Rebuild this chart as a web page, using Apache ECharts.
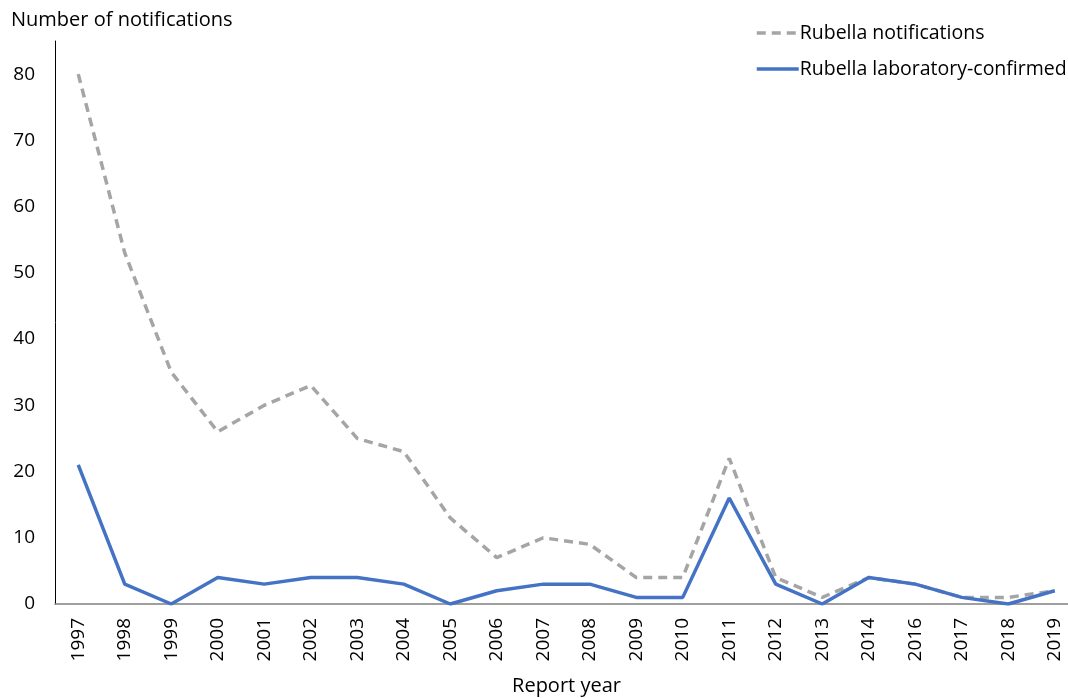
<!DOCTYPE html>
<html>
<head>
<meta charset="utf-8">
<script src="https://cdn.jsdelivr.net/npm/echarts@6/dist/echarts.min.js"></script>
<style>
  html, body { margin: 0; padding: 0; background: #fff; }
  #chart { width: 1068px; height: 698px; }
</style>
</head>
<body>
<div id="chart"></div>
<script>
  // report years (2015 not reported)
  const years = ['1997', '1998', '1999', '2000', '2001', '2002', '2003', '2004', '2005', '2006', '2007',
    '2008', '2009', '2010', '2011', '2012', '2013', '2014', '2016', '2017', '2018', '2019']
  const notifications = [80, 53, 35, 26, 30, 33, 25, 23, 13, 7, 10, 9, 4, 4, 22, 4, 1, 4, 3, 1, 1, 2]
  const labConfirmed = [21, 3, 0, 4, 3, 4, 4, 3, 0, 2, 3, 3, 1, 1, 16, 3, 0, 4, 3, 1, 0, 2]
  const yTicks = [0, 10, 20, 30, 40, 50, 60, 70, 80]

  const font = 'Open Sans'
  let myChart = echarts.init(document.getElementById('chart'))
  const option = {
    animation: false,
    textStyle: { fontFamily: font, color: '#000' },
    title: {
      text: 'Number of notifications',
      left: 6,
      top: 5,
      textStyle: { fontFamily: font, fontSize: 20, fontWeight: 'normal', color: '#000' }
    },
    legend: {
      orient: 'vertical',
      left: 750,
      top: 18,
      itemWidth: 42,
      itemHeight: 14,
      itemGap: 16,
      itemStyle: { opacity: 0 },
      lineStyle: { width: 3.5 },
      textStyle: { fontFamily: font, fontSize: 19.5, color: '#000', padding: [0, 0, 0, -4] },
      data: ['Rubella notifications', 'Rubella laboratory-confirmed']
    },
    grid: {
      left: 55,
      top: 41,
      width: 1023,
      height: 563,
      outerBoundsMode: 'none'
    },
    xAxis: {
      type: 'category',
      data: years,
      boundaryGap: true,
      name: 'Report year',
      nameLocation: 'middle',
      nameGap: 72,
      nameTextStyle: { fontFamily: font, fontSize: 20, color: '#000' },
      axisLine: { lineStyle: { color: '#808080', width: 1.5 } },
      axisTick: { show: false },
      axisLabel: { rotate: 90, margin: 14, fontSize: 19, color: '#000', fontFamily: font, interval: 0 }
    },
    yAxis: {
      type: 'value',
      min: 0,
      max: 85,
      interval: 10,
      axisLine: { show: true, lineStyle: { color: '#000', width: 1 } },
      axisTick: { show: false },
      splitLine: { show: false },
      axisLabel: {
        showMaxLabel: false,
        margin: 20,
        fontSize: 19,
        color: '#000',
        fontFamily: font,
        formatter: function (v) { return yTicks.indexOf(v) >= 0 ? String(v) : '' }
      }
    },
    series: [
      {
        name: 'Rubella notifications',
        type: 'line',
        symbol: 'none',
        data: notifications,
        itemStyle: { color: '#A5A5A5' },
        lineStyle: { color: '#A5A5A5', width: 3.5, type: [9, 6] },
        z: 2
      },
      {
        name: 'Rubella laboratory-confirmed',
        type: 'line',
        symbol: 'none',
        data: labConfirmed,
        itemStyle: { color: '#4472C4' },
        lineStyle: { color: '#4472C4', width: 3.5 },
        z: 3
      }
    ]
  }
  myChart.setOption(option)
</script>
</body>
</html>
